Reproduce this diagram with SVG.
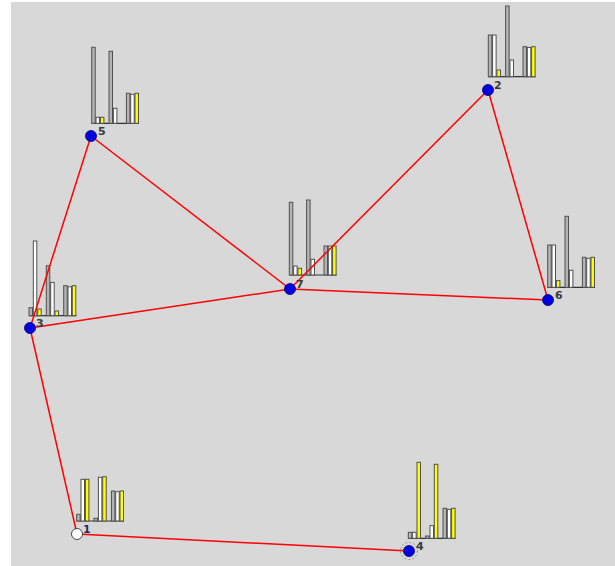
<svg xmlns="http://www.w3.org/2000/svg" width="615" height="566" viewBox="0 0 615 566">
<style>
.g{fill:#b4b4b4;stroke:#505050;stroke-width:1}
.w{fill:#ffffff;stroke:#505050;stroke-width:1}
.y{fill:#ffff00;stroke:#505050;stroke-width:1}
.base{stroke:#333;stroke-width:1.2}
.e{stroke:#ff0000;stroke-width:1.5;fill:none}
.n{fill:#0000e0;stroke:#00006a;stroke-width:0.8}
.lbl{font-family:"DejaVu Sans",sans-serif;font-size:11px;font-weight:bold;fill:#3a3a3a}
</style>
<rect x="0" y="0" width="615" height="566" fill="#ffffff"/>
<rect x="11" y="2" width="604" height="564" fill="#d8d8d8"/>

<g id="chart5">
<line class="base" x1="91.7" y1="123.3" x2="139" y2="123.3"/>
<rect class="g" x="91.7" y="47.3" width="3.5" height="76"/>
<rect class="w" x="96.0" y="117.3" width="3.5" height="6"/>
<rect class="y" x="100.4" y="117.3" width="3.5" height="6"/>
<rect class="g" x="109.0" y="51.3" width="3.5" height="72"/>
<rect class="w" x="113.4" y="108.3" width="3.5" height="15"/>
<rect class="g" x="126.4" y="93.3" width="3.5" height="30"/>
<rect class="w" x="130.7" y="94.3" width="3.5" height="29"/>
<rect class="y" x="135.0" y="93.3" width="3.5" height="30"/>
</g>
<g id="chart2">
<line class="base" x1="488.3" y1="76.7" x2="535.5" y2="76.7"/>
<rect class="g" x="488.3" y="35" width="3.5" height="41.7"/>
<rect class="w" x="492.6" y="35" width="3.5" height="41.7"/>
<rect class="y" x="497.0" y="70" width="3.5" height="6.7"/>
<rect class="g" x="505.6" y="6" width="3.5" height="70.7"/>
<rect class="w" x="510.0" y="60" width="3.5" height="16.7"/>
<rect class="g" x="523.0" y="46.7" width="3.5" height="30"/>
<rect class="w" x="527.3" y="47.4" width="3.5" height="29.3"/>
<rect class="y" x="531.6" y="46.7" width="3.5" height="30"/>
</g>
<g id="chart7">
<line class="base" x1="289.3" y1="275" x2="336.5" y2="275"/>
<rect class="g" x="289.3" y="202.3" width="3.5" height="72.7"/>
<rect class="w" x="293.6" y="266" width="3.5" height="9"/>
<rect class="y" x="298.0" y="268.3" width="3.5" height="6.7"/>
<rect class="g" x="306.6" y="200" width="3.5" height="75"/>
<rect class="w" x="311.0" y="259.3" width="3.5" height="15.7"/>
<rect class="g" x="324.0" y="246" width="3.5" height="29"/>
<rect class="w" x="328.3" y="246" width="3.5" height="29"/>
<rect class="y" x="332.6" y="246" width="3.5" height="29"/>
</g>
<g id="chart6">
<line class="base" x1="547.7" y1="287.3" x2="595" y2="287.3"/>
<rect class="g" x="547.7" y="245" width="3.5" height="42.3"/>
<rect class="w" x="552.0" y="245" width="3.5" height="42.3"/>
<rect class="y" x="556.4" y="280.6" width="3.5" height="6.7"/>
<rect class="g" x="565.0" y="216.3" width="3.5" height="71"/>
<rect class="w" x="569.4" y="270.3" width="3.5" height="17"/>
<rect class="g" x="582.4" y="257.3" width="3.5" height="30"/>
<rect class="w" x="586.7" y="258.3" width="3.5" height="29"/>
<rect class="y" x="591.0" y="257.3" width="3.5" height="30"/>
</g>
<g id="chart3">
<line class="base" x1="29" y1="315.7" x2="76.3" y2="315.7"/>
<rect class="g" x="29" y="307.7" width="3.5" height="8"/>
<rect class="w" x="33.3" y="241" width="3.5" height="74.7"/>
<rect class="y" x="37.7" y="309" width="3.5" height="6.7"/>
<rect class="g" x="46.3" y="265.7" width="3.5" height="50"/>
<rect class="w" x="50.7" y="282.4" width="3.5" height="33.3"/>
<rect class="y" x="55" y="311" width="3.5" height="4.7"/>
<rect class="g" x="63.7" y="285.7" width="3.5" height="30"/>
<rect class="w" x="68" y="286.7" width="3.5" height="29"/>
<rect class="y" x="72.3" y="285.7" width="3.5" height="30"/>
</g>
<g id="chart1">
<line class="base" x1="76.7" y1="521" x2="124" y2="521"/>
<rect class="g" x="76.7" y="514.3" width="3.5" height="6.7"/>
<rect class="w" x="81.0" y="479.3" width="3.5" height="41.7"/>
<rect class="y" x="85.4" y="479.3" width="3.5" height="41.7"/>
<rect class="g" x="94.0" y="518.3" width="3.5" height="2.7"/>
<rect class="w" x="98.4" y="477.3" width="3.5" height="43.7"/>
<rect class="y" x="102.7" y="476.7" width="3.5" height="44.3"/>
<rect class="g" x="111.4" y="491" width="3.5" height="30"/>
<rect class="w" x="115.7" y="491.7" width="3.5" height="29.3"/>
<rect class="y" x="120.0" y="491" width="3.5" height="30"/>
</g>
<g id="chart4">
<line class="base" x1="408.3" y1="538.3" x2="455.5" y2="538.3"/>
<rect class="g" x="408.3" y="532.3" width="3.5" height="6"/>
<rect class="w" x="412.6" y="532.3" width="3.5" height="6"/>
<rect class="y" x="417.0" y="462.3" width="3.5" height="76"/>
<rect class="g" x="425.6" y="536" width="3.5" height="2.3"/>
<rect class="w" x="430.0" y="525.6" width="3.5" height="12.7"/>
<rect class="y" x="434.3" y="464.3" width="3.5" height="74"/>
<rect class="g" x="443.0" y="508.3" width="3.5" height="30"/>
<rect class="w" x="447.3" y="509.3" width="3.5" height="29"/>
<rect class="y" x="451.6" y="508.3" width="3.5" height="30"/>
</g>

<g id="connectors">
<line class="e" x1="91" y1="136" x2="30" y2="328"/>
<line class="e" x1="91" y1="136" x2="290" y2="289"/>
<line class="e" x1="30" y1="328" x2="290" y2="289"/>
<line class="e" x1="290" y1="289" x2="488" y2="90"/>
<line class="e" x1="488" y1="90" x2="548" y2="300"/>
<line class="e" x1="290" y1="289" x2="548" y2="300"/>
<line class="e" x1="30" y1="328" x2="77" y2="534"/>
<line class="e" x1="77" y1="534" x2="409" y2="551"/>
</g>

<g id="node1"><circle cx="77" cy="534" r="5.5" fill="#ffffff" stroke="#222" stroke-width="0.8"/><text class="lbl" x="83" y="533" style="fill:#1a3060">1</text></g>
<g id="node2"><circle class="n" cx="488" cy="90" r="5.5"/><text class="lbl" x="494" y="89">2</text></g>
<g id="node3"><circle class="n" cx="30" cy="328" r="5.5"/><text class="lbl" x="36" y="327">3</text></g>
<g id="node4"><circle cx="409" cy="551" r="8.5" fill="none" stroke="#5a9a6a" stroke-width="0.8" stroke-dasharray="2,2"/><circle class="n" cx="409" cy="551" r="5.5"/><text class="lbl" x="416" y="550">4</text></g>
<g id="node5"><circle class="n" cx="91" cy="136" r="5.5"/><text class="lbl" x="98" y="135">5</text></g>
<g id="node6"><circle class="n" cx="548" cy="300" r="5.5"/><text class="lbl" x="555" y="299">6</text></g>
<g id="node7"><circle class="n" cx="290" cy="289" r="5.5"/><text class="lbl" x="296" y="288">7</text></g>
</svg>
